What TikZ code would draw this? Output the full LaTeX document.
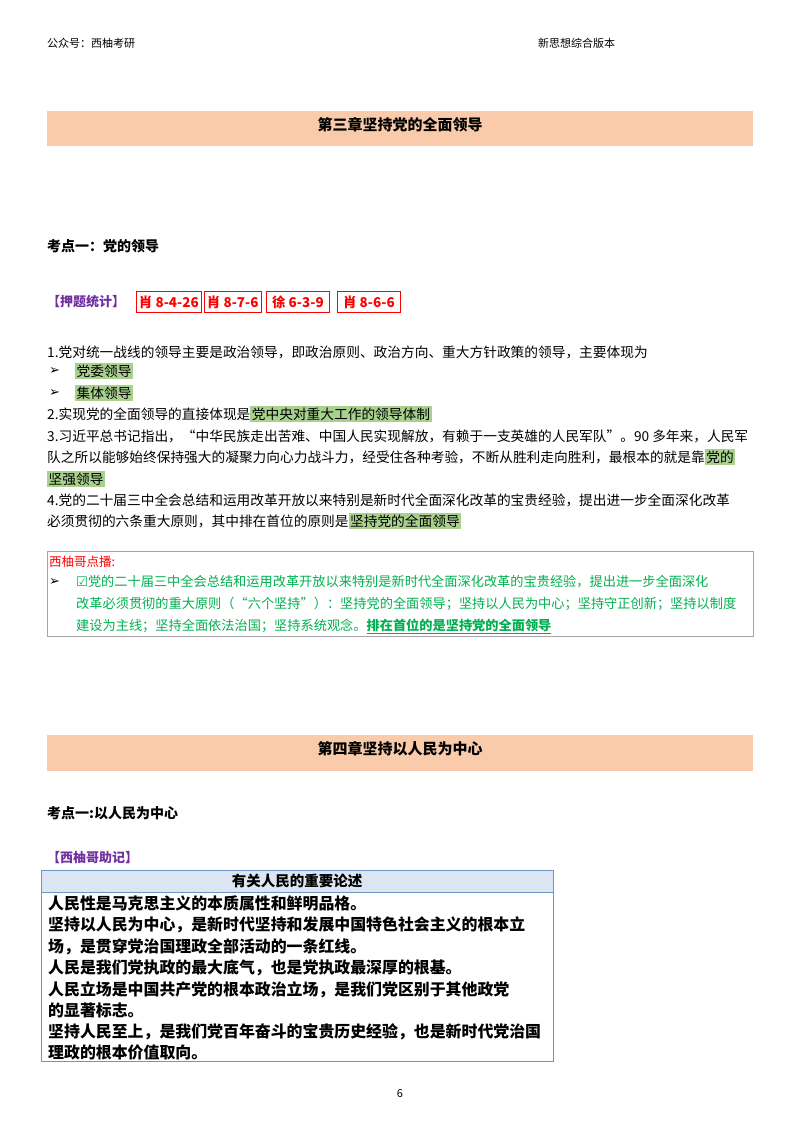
\documentclass[tikz,border=0pt]{standalone}
\usepackage{fontspec}
\setmainfont{Noto Sans CJK SC}
\newfontfamily\symf{DejaVu Sans}
\definecolor{band}{HTML}{F9CBAA}
\definecolor{hlg}{HTML}{A9D18E}
\definecolor{gtext}{HTML}{00B050}
\definecolor{purp}{HTML}{7030A0}
\definecolor{tblue}{HTML}{6F95C8}
\definecolor{thead}{HTML}{DCE6F2}
\newcommand{\hlx}[1]{{\setlength\fboxsep{1.5pt}\colorbox{hlg}{#1}}}
\tikzset{
  txt/.style={anchor=west,inner sep=0pt,font=\fontsize{13.7}{16}\selectfont},
  gtx/.style={anchor=west,inner sep=0pt,text=gtext,font=\fontsize{13.2}{16}\selectfont},
  arr/.style={anchor=west,inner sep=0pt,font=\symf\bfseries\fontsize{13}{15}\selectfont},
  tb/.style={anchor=west,inner sep=0pt,font=\bfseries\fontsize{15.9}{18}\selectfont},
  redbox/.style={draw=red,line width=0.9pt,text=red,anchor=west,inner sep=2.5pt,minimum height=21pt,font=\bfseries\fontsize{13.5}{15}\selectfont},
  bandbox/.style={fill=band,draw=none},
}
\begin{document}
\begin{tikzpicture}[x=1pt,y=-1pt]
\useasboundingbox (0,0) rectangle (800,1132);
\fill[white] (0,0) rectangle (800,1132);
\node[anchor=west,inner sep=0pt,font=\fontsize{11}{13}\selectfont] (h1) at (47,43) {公众号：西柚考研};
\node[anchor=west,inner sep=0pt,font=\fontsize{11}{13}\selectfont] (h2) at (538,43) {新思想综合版本};
% chapter 3
\fill[bandbox] (47,111) rectangle (753,146);
\node[font=\bfseries\fontsize{15}{18}\selectfont] (c3) at (400,125) {第三章坚持党的全面领导};
\node[anchor=west,inner sep=0pt,font=\bfseries\fontsize{14}{16}\selectfont] (k1) at (47,246) {考点一：党的领导};
\node[anchor=west,inner sep=0pt,text=purp,font=\bfseries\fontsize{13}{15}\selectfont] (yt) at (47,302) {【押题统计】};
\node[redbox,minimum width=63pt] (r1) at (136,302) {肖 8-4-26};
\node[redbox,minimum width=55pt] (r2) at (204,302) {肖 8-7-6};
\node[redbox,minimum width=63pt] (r3) at (266,302) {徐 6-3-9};
\node[redbox,minimum width=63pt] (r4) at (337,302) {肖 8-6-6};
\node[txt] (l1) at (47,352) {1.党对统一战线的领导主要是政治领导，即政治原则、政治方向、重大方针政策的领导，主要体现为};
\node[arr] (b1) at (49,371) {➢};
\node[txt] (b1t) at (75,371) {\hlx{党委领导}};
\node[arr] (b2) at (49,393) {➢};
\node[txt] (b2t) at (75,393) {\hlx{集体领导}};
\node[txt] (l2) at (47,414) {2.实现党的全面领导的直接体现是\hlx{党中央对重大工作的领导体制}};
\node[txt] (l3) at (47,436) {3.习近平总书记指出，“中华民族走出苦难、中国人民实现解放，有赖于一支英雄的人民军队”。90 多年来，人民军};
\node[txt] (l3b) at (47,457) {队之所以能够始终保持强大的凝聚力向心力战斗力，经受住各种考验，不断从胜利走向胜利，最根本的就是靠\hlx{党的}};
\node[txt] (l3c) at (47,479) {\hlx{坚强领导}};
\node[txt] (l4) at (47,500) {4.党的二十届三中全会总结和运用改革开放以来特别是新时代全面深化改革的宝贵经验，提出进一步全面深化改革};
\node[txt] (l4b) at (47,521) {必须贯彻的六条重大原则，其中排在首位的原则是\hlx{坚持党的全面领导}};
% callout
\draw[gray!70,line width=0.8pt] (47,551) rectangle (753,636);
\node[txt,text=red,font=\fontsize{12.5}{15}\selectfont] (dp) at (49,562) {西柚哥点播:};
\node[arr] (b3) at (49,582) {➢};
\node[gtx] (g1) at (76,582) {{\symf ☑}党的二十届三中全会总结和运用改革开放以来特别是新时代全面深化改革的宝贵经验，提出进一步全面深化};
\node[gtx] (g2) at (76,604) {改革必须贯彻的重大原则（“六个坚持”）：坚持党的全面领导；坚持以人民为中心；坚持守正创新；坚持以制度};
\node[gtx] (g3) at (76,626) {建设为主线；坚持全面依法治国；坚持系统观念。\bfseries\underline{排在首位的是坚持党的全面领导}};
% chapter 4
\fill[bandbox] (47,735) rectangle (753,771);
\node[font=\bfseries\fontsize{15}{18}\selectfont] (c4) at (400,749) {第四章坚持以人民为中心};
\node[anchor=west,inner sep=0pt,font=\bfseries\fontsize{14}{16}\selectfont] (k2) at (47,813) {考点一:以人民为中心};
\node[anchor=west,inner sep=0pt,text=purp,font=\bfseries\fontsize{13}{15}\selectfont] (zj) at (47,858) {【西柚哥助记】};
% table
\fill[thead] (41,870) rectangle (553,892);
\draw[tblue,line width=1pt] (41,870) rectangle (553,1061);
\draw[tblue,line width=0.6pt] (41,892) -- (553,892);
\node[font=\bfseries\fontsize{14.5}{16}\selectfont] (th) at (297,881) {有关人民的重要论述};
\node[tb] (t1) at (48,903) {人民性是马克思主义的本质属性和鲜明品格。};
\node[tb] (t2) at (48,925) {坚持以人民为中心，是新时代坚持和发展中国特色社会主义的根本立};
\node[tb] (t3) at (48,947) {场，是贯穿党治国理政全部活动的一条红线。};
\node[tb] (t4) at (48,968) {人民是我们党执政的最大底气，也是党执政最深厚的根基。};
\node[tb] (t5) at (48,990) {人民立场是中国共产党的根本政治立场，是我们党区别于其他政党};
\node[tb] (t6) at (48,1010) {的显著标志。};
\node[tb] (t7) at (48,1032) {坚持人民至上，是我们党百年奋斗的宝贵历史经验，也是新时代党治国};
\node[tb] (t8) at (48,1052) {理政的根本价值取向。};
\node[font=\fontsize{11}{13}\selectfont] (pg) at (400,1094) {6};
\end{tikzpicture}
\end{document}
